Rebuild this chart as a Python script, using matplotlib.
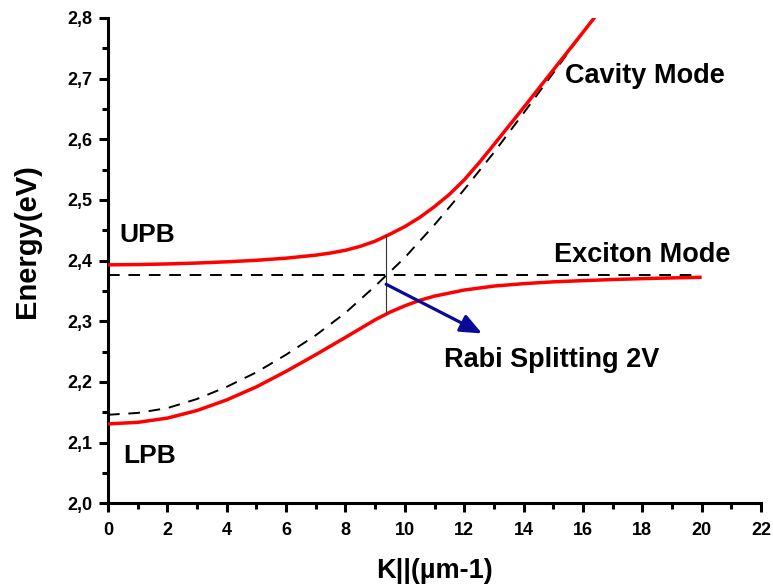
import matplotlib
matplotlib.use("Agg")
import matplotlib.pyplot as plt
from matplotlib.ticker import MultipleLocator, FuncFormatter

plt.rcParams['font.family'] = ['Liberation Sans', 'DejaVu Sans']
plt.rcParams['font.weight'] = 'bold'

# --- data ---
cavity_k = [0, 1, 2, 3, 4, 5, 6, 7, 8, 9, 10, 11, 12, 13, 14, 15, 16, 16.7]
cavity_E = [2.146, 2.149, 2.157, 2.172, 2.192, 2.216, 2.245, 2.277, 2.314, 2.358,
            2.405, 2.459, 2.517, 2.578, 2.643, 2.709, 2.776, 2.823]

exciton_k = [0, 19.7]
exciton_E = [2.377, 2.377]

upb_k = [0, 1, 2, 3, 4, 5, 6, 7, 7.5, 8, 8.5, 9, 9.5, 10, 10.5, 11, 11.5, 12,
         12.5, 13, 13.5, 14, 14.5, 15, 15.5, 16, 16.4]
upb_E = [2.393, 2.3935, 2.3945, 2.396, 2.398, 2.4005, 2.404, 2.409, 2.4125, 2.417,
         2.4235, 2.432, 2.4435, 2.456, 2.471, 2.489, 2.509, 2.533, 2.561, 2.591,
         2.6215, 2.652, 2.683, 2.714, 2.745, 2.776, 2.801]

lpb_k = [0, 1, 2, 3, 4, 5, 6, 7, 8, 8.5, 9, 9.5, 10, 10.5, 11, 12, 13, 14, 15,
         16, 17, 18, 19, 20]
lpb_E = [2.131, 2.1335, 2.1405, 2.153, 2.1705, 2.192, 2.2175, 2.245, 2.2735, 2.288,
         2.3025, 2.315, 2.3255, 2.3345, 2.3415, 2.3515, 2.358, 2.362, 2.365,
         2.367, 2.3688, 2.3703, 2.3715, 2.3725]

rabi_k = 9.37
rabi_E = [2.313, 2.443]
arrow_start = (9.37, 2.361)
arrow_end = (12.6, 2.280)

xlim = (0, 22)
ylim = (2.0, 2.8)

fig = plt.figure(figsize=(7.73, 5.88), dpi=100)
ax = fig.add_axes([0.1397, 0.1439, 0.8448, 0.8258])

dash = (6, 4.5)
ax.plot(cavity_k, cavity_E, color='black', lw=1.4, dashes=dash, zorder=2)
ax.plot(exciton_k, exciton_E, color='black', lw=1.4, dashes=dash, zorder=2)
ax.plot(upb_k, upb_E, color='#ff0000', lw=2.5, zorder=3, solid_capstyle='butt')
ax.plot(lpb_k, lpb_E, color='#ff0000', lw=2.5, zorder=3, solid_capstyle='butt')
ax.plot([rabi_k, rabi_k], rabi_E, color='#333333', lw=0.8, zorder=4)
ax.annotate('', xy=arrow_end, xytext=arrow_start,
            arrowprops=dict(arrowstyle='-|>,head_length=1.3,head_width=0.55',
                            color='#0a0a99', lw=2.3, shrinkA=0, shrinkB=0),
            zorder=5)

tfs = 19.5
ax.text(0.40, 2.431, 'UPB', fontsize=19, fontweight='bold')
ax.text(0.51, 2.067, 'LPB', fontsize=19, fontweight='bold')
ax.text(15.4, 2.693, 'Cavity Mode', fontsize=tfs, fontweight='bold')
ax.text(15.03, 2.398, 'Exciton Mode', fontsize=tfs, fontweight='bold')
ax.text(11.32, 2.225, 'Rabi Splitting 2V', fontsize=tfs, fontweight='bold')

ax.set_xlim(*xlim)
ax.set_ylim(*ylim)
for s in ('top', 'right'):
    ax.spines[s].set_visible(False)
for s in ('left', 'bottom'):
    ax.spines[s].set_linewidth(2.2)
    ax.spines[s].set_capstyle('projecting')

ax.xaxis.set_major_locator(MultipleLocator(2))
ax.xaxis.set_minor_locator(MultipleLocator(1))
ax.yaxis.set_major_locator(MultipleLocator(0.1))
ax.yaxis.set_minor_locator(MultipleLocator(0.05))
ax.yaxis.set_major_formatter(FuncFormatter(lambda v, p: f"{v:.1f}".replace('.', ',')))
ax.tick_params(which='major', length=6.5, width=2.2, labelsize=13)
ax.tick_params(axis='x', which='major', pad=7)
ax.tick_params(axis='y', which='major', pad=5)
ax.tick_params(which='minor', length=4, width=2.2)
for lab in ax.get_xticklabels() + ax.get_yticklabels():
    lab.set_fontweight('bold')

ax.set_xlabel('K||(µm-1)', fontsize=19.5, fontweight='bold')
ax.set_ylabel('Energy(eV)', fontsize=21, fontweight='bold')
ax.xaxis.set_label_coords(0.5, -0.112)
ax.yaxis.set_label_coords(-0.1026, 0.540)

fig.savefig('out.png', dpi=100)
